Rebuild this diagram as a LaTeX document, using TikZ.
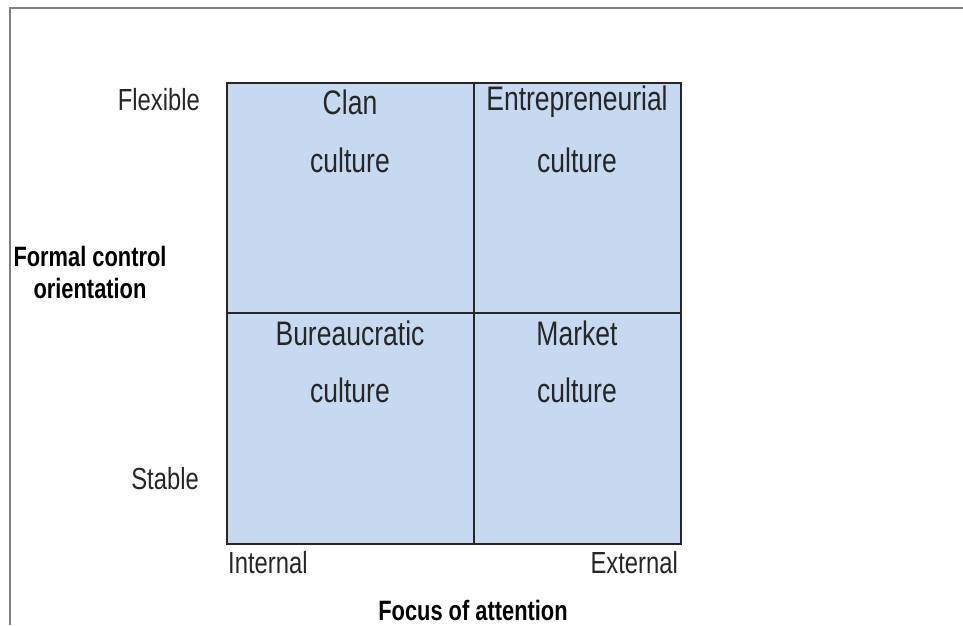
\documentclass[tikz,border=0pt]{standalone}
\usepackage{fontspec}
\setmainfont{Liberation Sans}[FakeStretch=0.78]
\definecolor{cellblue}{HTML}{C6D9F1}
\definecolor{labelgray}{HTML}{262626}
\definecolor{framegray}{HTML}{7F7F7F}
\tikzset{
  cell/.style={draw=black!85, line width=1.5pt, fill=cellblue, inner sep=0pt},
  celltext/.style={text=labelgray, font=\fontsize{34}{40}\selectfont, inner sep=0pt},
  sidetext/.style={text=labelgray, font=\fontsize{30.5}{36}\selectfont, inner sep=0pt},
  axistext/.style={text=black, font=\fontsize{28}{32}\selectfont\bfseries, inner sep=0pt, align=center}
}
\begin{document}
\begin{tikzpicture}[x=1pt,y=-1pt]
\useasboundingbox (0,0) rectangle (963,625);
%Frame
\draw[framegray, line width=2pt] (10,625)--(10,8)--(963,8);

%Cells
\node[cell, minimum width=247pt, minimum height=230pt, anchor=north west] (clan) at (226,82) {};
\node[cell, minimum width=207pt, minimum height=230pt, anchor=north west] (entre) at (473,82) {};
\node[cell, minimum width=247pt, minimum height=231pt, anchor=north west] (bureau) at (226,312) {};
\node[cell, minimum width=207pt, minimum height=231pt, anchor=north west] (market) at (473,312) {};

%Cell texts
\node[celltext] (clan1) at (350,102) {Clan};
\node[celltext] (clan2) at (350,160) {culture};
\node[celltext] (entre1) at (577,102) {Entrepreneurial};
\node[celltext] (entre2) at (577,160) {culture};
\node[celltext] (bureau1) at (350,333) {Bureaucratic};
\node[celltext] (bureau2) at (350,390) {culture};
\node[celltext] (market1) at (577,333) {Market};
\node[celltext] (market2) at (577,390) {culture};

%Side labels
\node[sidetext, anchor=east] (flexible) at (200,100) {Flexible};
\node[sidetext, anchor=east] (stable) at (199,479) {Stable};
\node[sidetext, anchor=west] (internal) at (228,563) {Internal};
\node[sidetext, anchor=east] (external) at (678,563) {External};

%Axis titles
\node[axistext] (formal) at (90,272) {Formal control\\orientation};
\node[axistext] (focus) at (473,610) {Focus of attention};
\end{tikzpicture}
\end{document}
